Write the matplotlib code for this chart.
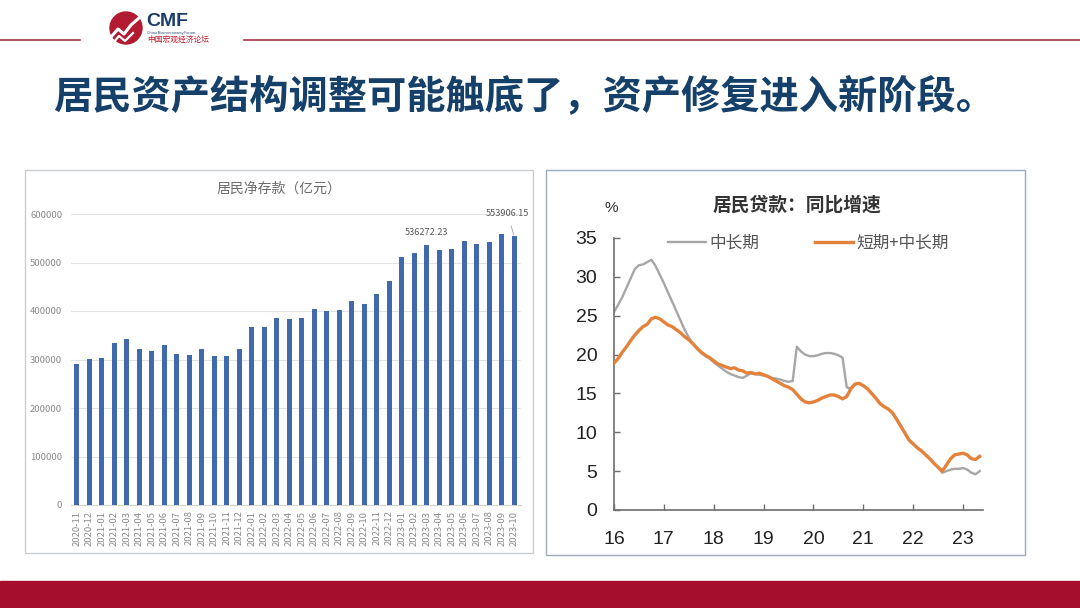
import matplotlib
matplotlib.use("Agg")
import pandas as pd
import matplotlib.pyplot as plt
from matplotlib.patches import Rectangle, Circle
from matplotlib.lines import Line2D
from matplotlib.ticker import StrMethodFormatter

plt.rcParams['font.family'] = ['Noto Sans CJK SC', 'DejaVu Sans']

W, H = 1080, 608

# left chart: household net deposits (100 million yuan)
deposit_months = [
    "2020-11", "2020-12", "2021-01", "2021-02", "2021-03", "2021-04",
    "2021-05", "2021-06", "2021-07", "2021-08", "2021-09", "2021-10",
    "2021-11", "2021-12", "2022-01", "2022-02", "2022-03", "2022-04",
    "2022-05", "2022-06", "2022-07", "2022-08", "2022-09", "2022-10",
    "2022-11", "2022-12", "2023-01", "2023-02", "2023-03", "2023-04",
    "2023-05", "2023-06", "2023-07", "2023-08", "2023-09", "2023-10",
]
deposit_values = [
    291300, 300800, 303000, 334000, 343000, 321500,
    316800, 330600, 311200, 309900, 321500, 306400,
    306400, 321500, 367100, 367000, 386500, 383000,
    386500, 403700, 399000, 401600, 419600, 414000,
    434800, 461700, 512000, 519700, 536272.23, 526500,
    528000, 545000, 538000, 542000, 559600, 553906.15,
]
labelled = {"2023-03": "536272.23", "2023-10": "553906.15"}

# right chart: household loans, yoy growth (%), monthly from 2016-01
loan_start = "2016-01"
long_term = [
    25.5, 26.4, 27.4, 28.6, 29.8, 31.0, 31.5, 31.6, 31.9, 32.2, 31.4, 30.3,
    29.2, 28.0, 26.8, 25.6, 24.4, 23.2, 22.2, 21.4, 20.8, 20.2, 19.8, 19.5,
    19.0, 18.6, 18.2, 17.8, 17.5, 17.3, 17.1, 17.0, 17.3, 17.6, 17.5, 17.4,
    17.3, 17.2, 17.0, 16.9, 16.8, 16.6, 16.5, 16.6, 21.0, 20.4, 20.0, 19.8,
    19.8, 19.9, 20.1, 20.2, 20.2, 20.1, 19.9, 19.6, 15.8, 15.6, 16.2, 16.3,
    16.0, 15.6, 15.0, 14.4, 13.7, 13.3, 13.0, 12.5, 11.7, 10.8, 9.9, 9.0,
    8.5, 8.0, 7.6, 7.1, 6.6, 6.0, 5.5, 4.8, 5.0, 5.2, 5.3, 5.3,
    5.4, 5.2, 4.8, 4.6, 5.0,
]
total = [
    18.9, 19.5, 20.3, 21.0, 21.8, 22.5, 23.1, 23.6, 23.9, 24.6, 24.8, 24.6,
    24.2, 23.8, 23.6, 23.2, 22.8, 22.3, 21.9, 21.4, 20.8, 20.3, 19.9, 19.6,
    19.2, 18.8, 18.6, 18.4, 18.2, 18.3, 18.0, 17.9, 17.6, 17.7, 17.5, 17.6,
    17.4, 17.2, 16.9, 16.6, 16.3, 16.0, 15.8, 15.5, 14.9, 14.3, 13.9, 13.8,
    13.9, 14.1, 14.4, 14.6, 14.8, 14.8, 14.6, 14.3, 14.6, 15.6, 16.2, 16.3,
    16.0, 15.6, 15.0, 14.4, 13.7, 13.3, 13.0, 12.5, 11.7, 10.8, 9.9, 9.0,
    8.5, 8.0, 7.6, 7.1, 6.6, 6.0, 5.5, 5.0, 5.8, 6.6, 7.1, 7.2,
    7.3, 7.1, 6.6, 6.5, 6.9,
]
year_ticks = [16, 17, 18, 19, 20, 21, 22, 23]


def rect(x0, y0, x1, y1):
    # pixel box -> figure fraction rect
    return [x0 / W, 1 - y1 / H, (x1 - x0) / W, (y1 - y0) / H]


fig = plt.figure(figsize=(W / 100, H / 100), dpi=100)

# page decorations in pixel coordinates
bg = fig.add_axes([0, 0, 1, 1])
bg.set_xlim(0, W)
bg.set_ylim(H, 0)
bg.axis("off")

red = "#a50f2d"
bg.add_line(Line2D([0, 80], [40, 40], color="#a33446", lw=1.2))
bg.add_line(Line2D([244, W], [40, 40], color="#a33446", lw=1.2))
bg.add_patch(Circle((126, 28), 16, color="#b31b32"))
bg.add_line(Line2D([111, 118, 124, 131, 139], [37, 29, 34, 25, 18], color="white", lw=2.2))
bg.add_line(Line2D([113, 119, 125, 133], [43, 36, 41, 33], color="white", lw=1.6))
bg.text(146, 21, "CMF", fontsize=14, fontweight="bold", color="#1d3d68", va="center",
        family=["Liberation Sans", "DejaVu Sans"])
bg.text(147, 33, "China Macroeconomy Forum", fontsize=2.6, color="#1d3d68", va="center")
bg.text(147, 39.5, "中国宏观经济论坛", fontsize=5.6, color="#c0192e", va="center")

bg.text(53, 97, "居民资产结构调整可能触底了，资产修复进入新阶段。", fontsize=28.3,
        fontweight="bold", color="#15406a", va="center", ha="left")

bg.add_patch(Rectangle((0, 581), W, H - 581, color=red))
bg.add_patch(Rectangle((25, 170), 508, 383, fill=False, ec="#c9cdd2", lw=1))
bg.add_patch(Rectangle((546, 170), 479, 385, fill=False, ec="#9eabba", lw=1))

# left: bar chart
ax1 = fig.add_axes(rect(70.5, 214, 520.5, 505))
pos = list(range(len(deposit_months)))
ax1.bar(pos, deposit_values, width=0.37, color="#4169ad", zorder=3)
ax1.set_xlim(-0.5, len(deposit_months) - 0.5)
ax1.set_ylim(0, 600000)
ax1.set_yticks(range(0, 600001, 100000))
ax1.yaxis.set_major_formatter(StrMethodFormatter("{x:.0f}"))
ax1.set_xticks(pos)
ax1.set_xticklabels(deposit_months, rotation=90)
ax1.tick_params(axis="both", length=0, labelsize=6.8, labelcolor="#8a8a8a")
ax1.tick_params(axis="y", pad=6)
ax1.tick_params(axis="x", pad=4)
ax1.grid(axis="y", color="#e3e3e3", lw=0.8, zorder=0)
for s in ["top", "right", "left"]:
    ax1.spines[s].set_visible(False)
ax1.spines["bottom"].set_color("#d4d4d4")
for i, m in enumerate(deposit_months):
    if m == "2023-03":
        ax1.annotate(labelled[m], (i, deposit_values[i]), xytext=(0, 9),
                     textcoords="offset points", ha="center", va="center",
                     fontsize=6.6, color="#595959")
    elif m == "2023-10":
        ax1.annotate(labelled[m], (i, deposit_values[i]), xytext=(-5, 16.5),
                     textcoords="offset points", ha="center", va="center",
                     fontsize=6.6, color="#595959", annotation_clip=False,
                     arrowprops=dict(arrowstyle="-", color="#a0a0a0", lw=0.6,
                                     shrinkA=4, shrinkB=1))
bg.text(279, 189, "居民净存款（亿元）", fontsize=10, color="#6b6b6b", ha="center", va="center")

# right: loan growth lines
dates = pd.date_range(loan_start, periods=len(total), freq="MS")
xs = [d.year - 2000 + (d.month - 1) / 12 for d in dates]

ax2 = fig.add_axes(rect(614, 238, 983, 510))
ax2.plot(xs, long_term, color="#a6a6a6", lw=1.7, label="中长期", zorder=2)
ax2.plot(xs, total, color="#e4823c", lw=2.4, label="短期+中长期", zorder=3)
ax2.set_xlim(16, 23.4)
ax2.set_ylim(0, 35)
ax2.set_xticks(year_ticks)
ax2.set_yticks(range(0, 36, 5))
num_font = ["Liberation Sans Narrow", "Liberation Sans", "DejaVu Sans"]
for lab in ax2.get_xticklabels() + ax2.get_yticklabels():
    lab.set_family(num_font)
ax2.tick_params(axis="both", direction="in", length=4, width=1, color="#6d6d6d",
                labelsize=14, labelcolor="#222222")
ax2.tick_params(axis="x", pad=15)
ax2.tick_params(axis="y", pad=12)
for s in ["top", "right"]:
    ax2.spines[s].set_visible(False)
for s in ["left", "bottom"]:
    ax2.spines[s].set_color("#6d6d6d")
    ax2.spines[s].set_linewidth(1.2)
ax2.set_facecolor("none")
leg = ax2.legend(ncol=2, frameon=False, loc="center left",
                 bbox_to_anchor=(668 / W, 1 - 243 / H), bbox_transform=fig.transFigure,
                 fontsize=12, handlelength=2.3, handletextpad=0.2, columnspacing=3.3,
                 borderpad=0, borderaxespad=0, labelcolor="#555555")
bg.text(797, 205, "居民贷款：同比增速", fontsize=13.5, fontweight="bold", color="#333333",
        ha="center", va="center")
bg.text(611, 208, "%", fontsize=11, color="#333333", ha="center", va="center",
        family=num_font)

fig.savefig("out.png", dpi=100)
